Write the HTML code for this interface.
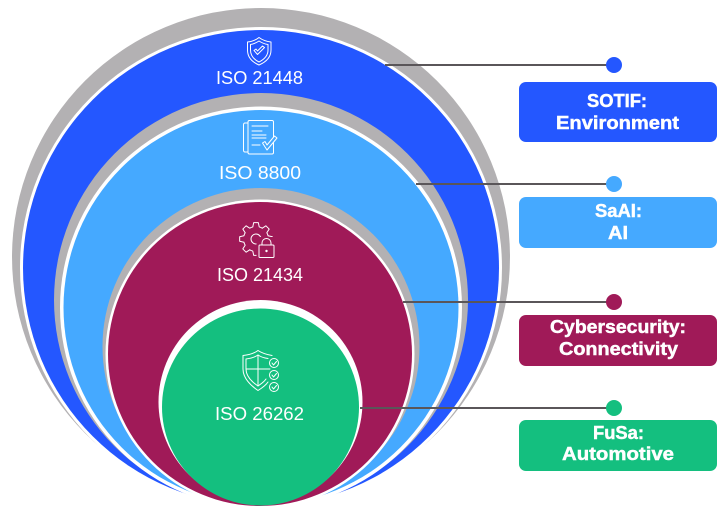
<!DOCTYPE html>
<html><head><meta charset="utf-8">
<style>html,body{margin:0;padding:0;background:#fff}svg{display:block}
.t{font-family:"Liberation Sans",sans-serif;font-size:18px;fill:#fff;text-anchor:start}
.b{font-family:"Liberation Sans",sans-serif;font-size:18px;font-weight:bold;fill:#fff;stroke:#fff;stroke-width:.45}
.i{fill:none;stroke:#fff;stroke-width:1;stroke-linejoin:round;stroke-linecap:round}
.l{stroke:#5a5659;stroke-width:2}</style></head>
<body>
<svg width="718" height="517" viewBox="0 0 718 517" xmlns="http://www.w3.org/2000/svg">
<rect width="718" height="517" fill="#fff"/>
<circle cx="261" cy="257" r="249" fill="#b3b1b3"/>
<circle cx="261" cy="268" r="241" fill="#fff"/>
<circle cx="261" cy="268" r="238" fill="#2457ff"/>
<circle cx="261" cy="300" r="207" fill="#b3b1b3"/>
<circle cx="261" cy="307.500" r="201" fill="#fff"/>
<circle cx="261" cy="307.500" r="197.500" fill="#45a9ff"/>
<circle cx="261" cy="346.500" r="158.500" fill="#b3b1b3"/>
<circle cx="260" cy="354" r="154.500" fill="#fff"/>
<circle cx="260" cy="354" r="152" fill="#a01a58"/>
<circle cx="260.500" cy="402" r="102" fill="#fff"/>
<circle cx="260.500" cy="407" r="98.500" fill="#14bf7f"/>

<line class="l" x1="385" y1="65" x2="614" y2="65"/>
<line class="l" x1="416" y1="184" x2="614" y2="184"/>
<line class="l" x1="403" y1="302" x2="614" y2="302"/>
<line class="l" x1="360" y1="408" x2="614" y2="408"/>
<circle cx="614" cy="65" r="8" fill="#2457ff"/>
<circle cx="614" cy="184" r="8" fill="#45a9ff"/>
<circle cx="614" cy="302" r="8" fill="#a01a58"/>
<circle cx="614" cy="408" r="8" fill="#14bf7f"/>

<rect x="519" y="82" width="198" height="60" rx="7" fill="#2457ff"/>
<rect x="519" y="197" width="198" height="51" rx="7" fill="#45a9ff"/>
<rect x="519" y="315" width="198" height="51" rx="7" fill="#a01a58"/>
<rect x="519" y="420" width="198" height="51" rx="7" fill="#14bf7f"/>

<text class="b" x="587" y="107" textLength="60" lengthAdjust="spacingAndGlyphs">SOTIF:</text>
<text class="b" x="556" y="129" textLength="123" lengthAdjust="spacingAndGlyphs">Environment</text>
<text class="b" x="595" y="217" textLength="47" lengthAdjust="spacingAndGlyphs">SaAI:</text>
<text class="b" x="608" y="239" textLength="20" lengthAdjust="spacingAndGlyphs">AI</text>
<text class="b" x="550" y="333" textLength="136" lengthAdjust="spacingAndGlyphs">Cybersecurity:</text>
<text class="b" x="559" y="355" textLength="119" lengthAdjust="spacingAndGlyphs">Connectivity</text>
<text class="b" x="593" y="439" textLength="51" lengthAdjust="spacingAndGlyphs">FuSa:</text>
<text class="b" x="562" y="460" textLength="112" lengthAdjust="spacingAndGlyphs">Automotive</text>

<text class="t" x="216" y="84" textLength="87" lengthAdjust="spacingAndGlyphs">ISO 21448</text>
<text class="t" x="219" y="179" textLength="82" lengthAdjust="spacingAndGlyphs">ISO 8800</text>
<text class="t" x="217" y="281" textLength="86" lengthAdjust="spacingAndGlyphs">ISO 21434</text>
<text class="t" x="215" y="420" textLength="89" lengthAdjust="spacingAndGlyphs">ISO 26262</text>

<!-- shield -->
<g class="i">
<path d="M259 37.500C255.500 40.500 252 41.500 247.500 42V50C247.500 57 252 62 259 65C266 62 271 57 271 50V42C266.500 41.500 263 40.500 259 37.500Z"/>
<path d="M259 41C256 43 253.500 44 250.500 44.500V50C250.500 55.500 254 59.500 259 62C264 59.500 268 55.500 268 50V44.500C264.500 44 262 43 259 41Z"/>
<path d="M254 50.500L257.500 54.500L264.500 47.500L262.500 46L257.500 51L256 49Z"/>
</g>
<!-- document -->
<g class="i">
<path d="M248 123H245Q243.500 123 243.500 125V150Q243.500 152 245 152H248"/>
<rect x="248" y="120.500" width="25.500" height="33.500" rx="1.500"/>
<path d="M252 126H268M252 131H262M252 135H266M252 138H266M252 145H260"/>
<path d="M262.500 143L265 141.500L267 145L274.500 136L277 138L267 150Z" fill="#45a9ff"/>
</g>
<!-- gear with lock -->
<g class="i">
<g transform="translate(256 239)">
<path id="gt" d="M12.070 -3.240L16.340 -2.300L16.340 2.300L12.070 3.240A12.500 12.500 0 0 1 10.830 6.250"/>
<path transform="rotate(45)" d="M12.070 -3.240L16.340 -2.300L16.340 2.300L12.070 3.240A12.500 12.500 0 0 1 10.830 6.250"/>
<path transform="rotate(90)" d="M12.070 -3.240L16.340 -2.300L16.340 2.300L12.070 3.240A12.500 12.500 0 0 1 10.830 6.250"/>
<path transform="rotate(135)" d="M12.070 -3.240L16.340 -2.300L16.340 2.300L12.070 3.240A12.500 12.500 0 0 1 10.830 6.250"/>
<path transform="rotate(180)" d="M12.070 -3.240L16.340 -2.300L16.340 2.300L12.070 3.240A12.500 12.500 0 0 1 10.830 6.250"/>
<path transform="rotate(225)" d="M12.070 -3.240L16.340 -2.300L16.340 2.300L12.070 3.240A12.500 12.500 0 0 1 10.830 6.250"/>
<path transform="rotate(270)" d="M12.070 -3.240L16.340 -2.300L16.340 2.300L12.070 3.240A12.500 12.500 0 0 1 10.830 6.250"/>
<path transform="rotate(315)" d="M12.070 -3.240L16.340 -2.300L16.340 2.300L12.070 3.240A12.500 12.500 0 0 1 10.830 6.250"/>
</g>
<circle cx="256" cy="239" r="5"/>
<rect x="256.500" y="237" width="19" height="21" fill="#a01a58" stroke="none"/>
<rect x="259" y="245" width="15" height="12.500" rx="1"/>
<path d="M262 245V243A4.500 4.500 0 0 1 271 243V245"/>
<circle cx="266.500" cy="251" r=".7" fill="#fff"/>
</g>
<!-- shield with checks -->
<g class="i">
<path d="M258 350.500C254 353.500 249 355 243 355.500V369C243 378 250 385 258 390.500C262 388 266 385 268 382"/>
<path d="M258 350.500C261 352.500 266 354.500 272 355.500"/>
<path d="M258 355C255 357 251 358.500 246 359V369C246 376 252 382 258 386C261 384 264 382 266 379"/>
<path d="M258 355V386M246 369H270"/>
<path d="M258 355C261 357 264 358 268 358.500"/>
<circle cx="274" cy="363" r="4.500" fill="#14bf7f"/>
<circle cx="274" cy="375" r="4.500" fill="#14bf7f"/>
<circle cx="274" cy="387" r="4.500" fill="#14bf7f"/>
<path d="M272 363L273.500 365L276.500 361.500M272 375L273.500 377L276.500 373.500M272 387L273.500 389L276.500 385.500"/>
</g>
</svg>
</body></html>
